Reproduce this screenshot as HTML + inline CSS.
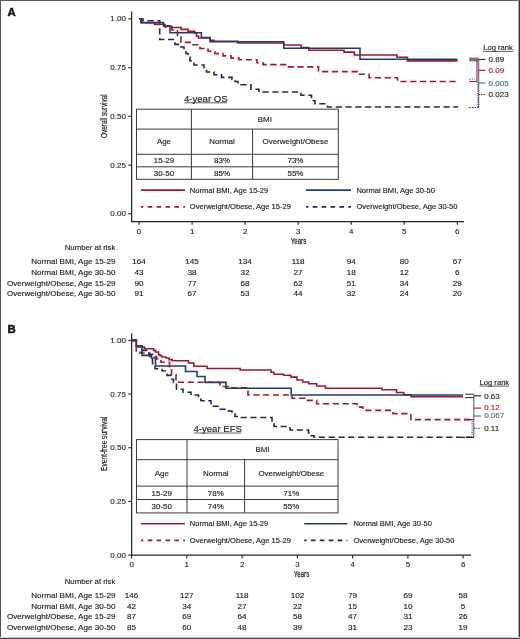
<!DOCTYPE html>
<html><head><meta charset="utf-8"><style>
html,body{margin:0;padding:0;background:#fff;}
svg{display:block;}
#w{width:520px;height:639px;overflow:hidden;will-change:transform;}
text{font-family:"Liberation Sans",sans-serif;}
</style></head><body><div id="w">
<svg width="520" height="639" viewBox="0 0 520 639">
<rect x="0" y="0" width="520" height="639" fill="#fff"/>
<text x="7.6" y="16.3" font-size="11.4" font-weight="bold" fill="#111" stroke="#111" stroke-width="0.45">A</text>
<line x1="131.6" y1="11.5" x2="131.6" y2="222.2" stroke="#222" stroke-width="1.25"/>
<line x1="131" y1="221.6" x2="464" y2="221.6" stroke="#222" stroke-width="1.25"/>
<line x1="128.3" y1="18.8" x2="131.6" y2="18.8" stroke="#222" stroke-width="1.1"/>
<text x="125.9" y="21.3" font-size="8.0" text-anchor="end" fill="#2a2a2a" stroke="#2a2a2a" stroke-width="0.15">1.00</text>
<line x1="128.3" y1="67.7" x2="131.6" y2="67.7" stroke="#222" stroke-width="1.1"/>
<text x="125.9" y="70.2" font-size="8.0" text-anchor="end" fill="#2a2a2a" stroke="#2a2a2a" stroke-width="0.15">0.75</text>
<line x1="128.3" y1="116.3" x2="131.6" y2="116.3" stroke="#222" stroke-width="1.1"/>
<text x="125.9" y="118.8" font-size="8.0" text-anchor="end" fill="#2a2a2a" stroke="#2a2a2a" stroke-width="0.15">0.50</text>
<line x1="128.3" y1="165.2" x2="131.6" y2="165.2" stroke="#222" stroke-width="1.1"/>
<text x="125.9" y="167.7" font-size="8.0" text-anchor="end" fill="#2a2a2a" stroke="#2a2a2a" stroke-width="0.15">0.25</text>
<line x1="128.3" y1="213.8" x2="131.6" y2="213.8" stroke="#222" stroke-width="1.1"/>
<text x="125.9" y="216.3" font-size="8.0" text-anchor="end" fill="#2a2a2a" stroke="#2a2a2a" stroke-width="0.15">0.00</text>
<line x1="139.0" y1="221.6" x2="139.0" y2="224.79999999999998" stroke="#222" stroke-width="1.1"/>
<text x="139.0" y="233.79999999999998" font-size="7.9" text-anchor="middle" fill="#2a2a2a" stroke="#2a2a2a" stroke-width="0.15">0</text>
<line x1="192.1" y1="221.6" x2="192.1" y2="224.79999999999998" stroke="#222" stroke-width="1.1"/>
<text x="192.1" y="233.79999999999998" font-size="7.9" text-anchor="middle" fill="#2a2a2a" stroke="#2a2a2a" stroke-width="0.15">1</text>
<line x1="245.1" y1="221.6" x2="245.1" y2="224.79999999999998" stroke="#222" stroke-width="1.1"/>
<text x="245.1" y="233.79999999999998" font-size="7.9" text-anchor="middle" fill="#2a2a2a" stroke="#2a2a2a" stroke-width="0.15">2</text>
<line x1="298.1" y1="221.6" x2="298.1" y2="224.79999999999998" stroke="#222" stroke-width="1.1"/>
<text x="298.1" y="233.79999999999998" font-size="7.9" text-anchor="middle" fill="#2a2a2a" stroke="#2a2a2a" stroke-width="0.15">3</text>
<line x1="351.2" y1="221.6" x2="351.2" y2="224.79999999999998" stroke="#222" stroke-width="1.1"/>
<text x="351.2" y="233.79999999999998" font-size="7.9" text-anchor="middle" fill="#2a2a2a" stroke="#2a2a2a" stroke-width="0.15">4</text>
<line x1="404.2" y1="221.6" x2="404.2" y2="224.79999999999998" stroke="#222" stroke-width="1.1"/>
<text x="404.2" y="233.79999999999998" font-size="7.9" text-anchor="middle" fill="#2a2a2a" stroke="#2a2a2a" stroke-width="0.15">5</text>
<line x1="457.3" y1="221.6" x2="457.3" y2="224.79999999999998" stroke="#222" stroke-width="1.1"/>
<text x="457.3" y="233.79999999999998" font-size="7.9" text-anchor="middle" fill="#2a2a2a" stroke="#2a2a2a" stroke-width="0.15">6</text>
<text x="7.6" y="332.9" font-size="11.4" font-weight="bold" fill="#111" stroke="#111" stroke-width="0.45">B</text>
<line x1="131.6" y1="333.3" x2="131.6" y2="555.8000000000001" stroke="#222" stroke-width="1.25"/>
<line x1="131" y1="555.2" x2="471" y2="555.2" stroke="#222" stroke-width="1.25"/>
<line x1="128.3" y1="340.4" x2="131.6" y2="340.4" stroke="#222" stroke-width="1.1"/>
<text x="125.9" y="342.9" font-size="8.0" text-anchor="end" fill="#2a2a2a" stroke="#2a2a2a" stroke-width="0.15">1.00</text>
<line x1="128.3" y1="394.0" x2="131.6" y2="394.0" stroke="#222" stroke-width="1.1"/>
<text x="125.9" y="396.5" font-size="8.0" text-anchor="end" fill="#2a2a2a" stroke="#2a2a2a" stroke-width="0.15">0.75</text>
<line x1="128.3" y1="447.7" x2="131.6" y2="447.7" stroke="#222" stroke-width="1.1"/>
<text x="125.9" y="450.2" font-size="8.0" text-anchor="end" fill="#2a2a2a" stroke="#2a2a2a" stroke-width="0.15">0.50</text>
<line x1="128.3" y1="501.4" x2="131.6" y2="501.4" stroke="#222" stroke-width="1.1"/>
<text x="125.9" y="503.9" font-size="8.0" text-anchor="end" fill="#2a2a2a" stroke="#2a2a2a" stroke-width="0.15">0.25</text>
<line x1="128.3" y1="555.2" x2="131.6" y2="555.2" stroke="#222" stroke-width="1.1"/>
<text x="125.9" y="557.7" font-size="8.0" text-anchor="end" fill="#2a2a2a" stroke="#2a2a2a" stroke-width="0.15">0.00</text>
<line x1="131.6" y1="555.2" x2="131.6" y2="558.4000000000001" stroke="#222" stroke-width="1.1"/>
<text x="131.6" y="567.4000000000001" font-size="7.9" text-anchor="middle" fill="#2a2a2a" stroke="#2a2a2a" stroke-width="0.15">0</text>
<line x1="186.8" y1="555.2" x2="186.8" y2="558.4000000000001" stroke="#222" stroke-width="1.1"/>
<text x="186.8" y="567.4000000000001" font-size="7.9" text-anchor="middle" fill="#2a2a2a" stroke="#2a2a2a" stroke-width="0.15">1</text>
<line x1="242.1" y1="555.2" x2="242.1" y2="558.4000000000001" stroke="#222" stroke-width="1.1"/>
<text x="242.1" y="567.4000000000001" font-size="7.9" text-anchor="middle" fill="#2a2a2a" stroke="#2a2a2a" stroke-width="0.15">2</text>
<line x1="297.4" y1="555.2" x2="297.4" y2="558.4000000000001" stroke="#222" stroke-width="1.1"/>
<text x="297.4" y="567.4000000000001" font-size="7.9" text-anchor="middle" fill="#2a2a2a" stroke="#2a2a2a" stroke-width="0.15">3</text>
<line x1="352.6" y1="555.2" x2="352.6" y2="558.4000000000001" stroke="#222" stroke-width="1.1"/>
<text x="352.6" y="567.4000000000001" font-size="7.9" text-anchor="middle" fill="#2a2a2a" stroke="#2a2a2a" stroke-width="0.15">4</text>
<line x1="407.9" y1="555.2" x2="407.9" y2="558.4000000000001" stroke="#222" stroke-width="1.1"/>
<text x="407.9" y="567.4000000000001" font-size="7.9" text-anchor="middle" fill="#2a2a2a" stroke="#2a2a2a" stroke-width="0.15">5</text>
<line x1="463.1" y1="555.2" x2="463.1" y2="558.4000000000001" stroke="#222" stroke-width="1.1"/>
<text x="463.1" y="567.4000000000001" font-size="7.9" text-anchor="middle" fill="#2a2a2a" stroke="#2a2a2a" stroke-width="0.15">6</text>
<text x="298.5" y="243.6" font-size="9.4" text-anchor="middle" textLength="15.4" lengthAdjust="spacingAndGlyphs" fill="#222" stroke="#222" stroke-width="0.25">Years</text>
<text x="301.5" y="577.0" font-size="9.4" text-anchor="middle" textLength="15.4" lengthAdjust="spacingAndGlyphs" fill="#222" stroke="#222" stroke-width="0.25">Years</text>
<text transform="translate(107.2,116.1) rotate(-90)" font-size="8.5" text-anchor="middle" textLength="43.6" lengthAdjust="spacingAndGlyphs" fill="#222" stroke="#222" stroke-width="0.2">Overall survival</text>
<text transform="translate(107.2,443.8) rotate(-90)" font-size="8.5" text-anchor="middle" textLength="54.2" lengthAdjust="spacingAndGlyphs" fill="#222" stroke="#222" stroke-width="0.2">Event-free survival</text>
<polyline points="139.5,19 141.5,19 141.5,22.7 155,22.7 155,24.5 165,24.5 165,27 172,27 172,30 177.5,30 177.5,37 181,37 181,42.4 193,42.4 193,44.7 200,44.7 200,48.5 208,48.5 208,51.2 215,51.2 215,53.6 223,53.6 223,55.9 231,55.9 231,58.1 239,58.1 239,59.8 257,59.8 257,62.7 263,62.7 263,64.6 286.5,64.6 286.5,66.9 318.5,66.9 318.5,71.6 359.5,71.6 359.5,74.2 369,74.2 369,77.7 397.5,77.7 397.5,81.5 457.5,81.5" fill="none" stroke="#a3162f" stroke-width="1.6" stroke-dasharray="6.2 3.6"/>
<polyline points="139.5,19 143,19 143,20.8 159.7,20.8 159.7,39.5 175,39.5 175,44.4 181,44.4 181,47 184,47 184,50 186,50 186,53.5 188,53.5 188,57 190,57 190,61 194,61 194,65 204,65 204,68.5 206.5,68.5 206.5,72 214,72 214,74.7 221.5,74.7 221.5,77.4 232,77.4 232,79.5 235,79.5 235,81.5 238,81.5 238,84.8 251,84.8 251,89.3 259,89.3 259,92 301,92 301,95.2 311.5,95.2 311.5,100.7 315,100.7 315,103.8 327.5,103.8 327.5,107 458,107" fill="none" stroke="#1b2d52" stroke-width="1.6" stroke-dasharray="6.2 3.6"/>
<polyline points="139.5,19 141.5,19 141.5,22.7 154.3,22.7 154.3,24.2 164,24.2 164,26.2 171.6,26.2 171.6,27.5 181.2,27.5 181.2,29.4 188,29.4 188,31.3 194.7,31.3 194.7,33.3 196.5,33.3 196.5,36 198.5,36 198.5,38 210,38 210,40.2 214,40.2 214,41.2 237.7,41.2 237.7,43 283.8,43 283.8,45 301,45 301,47.5 308.8,47.5 308.8,50.2 344,50.2 344,52.1 354.5,52.1 354.5,55 397,55 397,57.3 407.5,57.3 407.5,60.9 457.5,60.9" fill="none" stroke="#a3162f" stroke-width="1.6"/>
<polyline points="139.5,19 141,19 141,22.5 163.5,22.5 163.5,25.8 170,25.8 170,32.7 201.4,32.7 201.4,37.5 210.1,37.5 210.1,41.7 283.8,41.7 283.8,48.3 360,48.3 360,59.3 457.5,59.3" fill="none" stroke="#1f3d6e" stroke-width="1.6"/>
<polyline points="131.5,340.4 136.3,340.4 136.3,351 140,351 140,353 149.5,353 149.5,356.5 156.5,356.5 156.5,359 161,359 161,362.3 169.5,362.3 169.5,367.5 171.5,367.5 171.5,374.5 176,374.5 176,382.2 220,382.2 220,386.5 228,386.5 228,387.7 248,387.7 248,395 292,395 292,398.3 305,398.3 305,400.4 316.7,400.4 316.7,403.8 357,403.8 357,407.1 363,407.1 363,410.4 393,410.4 393,413.6 411,413.6 411,419.6 472,419.6" fill="none" stroke="#a3162f" stroke-width="1.6" stroke-dasharray="6.2 3.6"/>
<polyline points="131.5,340.4 136.3,340.4 136.3,345.8 140.5,345.8 140.5,350.4 149,350.4 149,354.2 152.5,354.2 152.5,363.8 155,363.8 155,368.7 162,368.7 162,370.8 167,370.8 167,375.4 171,375.4 171,379.2 173.5,379.2 173.5,382.5 176.5,382.5 176.5,389.2 183,389.2 183,392.3 191,392.3 191,395 198.5,395 198.5,398 201,398 201,400.8 211,400.8 211,406.2 219.5,406.2 219.5,409.2 228.5,409.2 228.5,411 232,411 232,414 235,414 235,416.5 238,416.5 238,417.5 272,417.5 272,422 274,422 274,426.5 290,426.5 290,430 308.5,430 308.5,433 311,433 311,435.8 314,435.8 314,437.3 472,437.3" fill="none" stroke="#1b2d52" stroke-width="1.6" stroke-dasharray="6.2 3.6"/>
<polyline points="131.5,340.4 136.3,340.4 136.3,345.8 138,345.8 138,347 144.4,347 144.4,348.7 153.6,348.7 153.6,350.4 155.5,350.4 155.5,352 158.5,352 158.5,354.6 160,354.6 160,355.8 162,355.8 162,357 166,357 166,358 169,358 169,359.6 172.3,359.6 172.3,360.8 188.5,360.8 188.5,363 193.8,363 193.8,366.2 207,366.2 207,368.5 240.2,368.5 240.2,370 271,370 271,372.3 274,372.3 274,374.2 283.5,374.2 283.5,375.2 291,375.2 291,377.1 297,377.1 297,380 302.7,380 302.7,382 308.5,382 308.5,383.8 316.7,383.8 316.7,386 325.4,386 325.4,388.3 382,388.3 382,389.8 396.5,389.8 396.5,392.5 403.8,392.5 403.8,394.7 411,394.7 411,396.8 463,396.8" fill="none" stroke="#a3162f" stroke-width="1.6"/>
<polyline points="131.5,340.4 136.3,340.4 136.3,345.8 142,345.8 142,355.4 151.5,355.4 151.5,358 155.5,358 155.5,366 185.5,366 185.5,371.5 197,371.5 197,376.5 205,376.5 205,382.4 226,382.4 226,388.2 291.2,388.2 291.2,395 463,395" fill="none" stroke="#1f3d6e" stroke-width="1.6"/>
<text x="205.8" y="101.8" font-size="9.6" text-anchor="middle" fill="#222" stroke="#222" stroke-width="0.15">4-year OS</text>
<line x1="184.4" y1="102.8" x2="227.1" y2="102.8" stroke="#333" stroke-width="0.8"/>
<rect x="136.5" y="109.2" width="201.8" height="70.10000000000001" fill="#fff" stroke="#3a3a3a" stroke-width="1"/>
<line x1="136.5" y1="129.1" x2="338.3" y2="129.1" stroke="#3a3a3a" stroke-width="1"/>
<line x1="136.5" y1="154.3" x2="338.3" y2="154.3" stroke="#3a3a3a" stroke-width="1"/>
<line x1="136.5" y1="166.8" x2="338.3" y2="166.8" stroke="#3a3a3a" stroke-width="1"/>
<line x1="191.4" y1="109.2" x2="191.4" y2="179.3" stroke="#3a3a3a" stroke-width="1"/>
<line x1="252.6" y1="129.1" x2="252.6" y2="179.3" stroke="#3a3a3a" stroke-width="1"/>
<text x="264.85" y="121.85000000000001" font-size="7.95" text-anchor="middle" fill="#222" stroke="#222" stroke-width="0.15">BMI</text>
<text x="163.95" y="144.39999999999998" font-size="7.95" text-anchor="middle" fill="#222" stroke="#222" stroke-width="0.15">Age</text>
<text x="222.0" y="144.39999999999998" font-size="7.95" text-anchor="middle" fill="#222" stroke="#222" stroke-width="0.15">Normal</text>
<text x="295.45" y="144.39999999999998" font-size="7.95" text-anchor="middle" fill="#222" stroke="#222" stroke-width="0.15">Overweight/Obese</text>
<text x="163.95" y="163.25" font-size="7.95" text-anchor="middle" fill="#222" stroke="#222" stroke-width="0.15">15-29</text>
<text x="222.0" y="163.25" font-size="7.95" text-anchor="middle" fill="#222" stroke="#222" stroke-width="0.15">83%</text>
<text x="295.45" y="163.25" font-size="7.95" text-anchor="middle" fill="#222" stroke="#222" stroke-width="0.15">73%</text>
<text x="163.95" y="175.75" font-size="7.95" text-anchor="middle" fill="#222" stroke="#222" stroke-width="0.15">30-50</text>
<text x="222.0" y="175.75" font-size="7.95" text-anchor="middle" fill="#222" stroke="#222" stroke-width="0.15">85%</text>
<text x="295.45" y="175.75" font-size="7.95" text-anchor="middle" fill="#222" stroke="#222" stroke-width="0.15">55%</text>
<text x="217.7" y="432.0" font-size="9.6" text-anchor="middle" fill="#222" stroke="#222" stroke-width="0.15">4-year EFS</text>
<line x1="194.2" y1="433.0" x2="241.2" y2="433.0" stroke="#333" stroke-width="0.8"/>
<rect x="136.5" y="439.6" width="201.5" height="73.29999999999995" fill="#fff" stroke="#3a3a3a" stroke-width="1"/>
<line x1="136.5" y1="459.7" x2="338.0" y2="459.7" stroke="#3a3a3a" stroke-width="1"/>
<line x1="136.5" y1="486.1" x2="338.0" y2="486.1" stroke="#3a3a3a" stroke-width="1"/>
<line x1="136.5" y1="499.5" x2="338.0" y2="499.5" stroke="#3a3a3a" stroke-width="1"/>
<line x1="187.0" y1="439.6" x2="187.0" y2="512.9" stroke="#3a3a3a" stroke-width="1"/>
<line x1="244.6" y1="459.7" x2="244.6" y2="512.9" stroke="#3a3a3a" stroke-width="1"/>
<text x="262.5" y="452.34999999999997" font-size="7.95" text-anchor="middle" fill="#222" stroke="#222" stroke-width="0.15">BMI</text>
<text x="161.75" y="475.59999999999997" font-size="7.95" text-anchor="middle" fill="#222" stroke="#222" stroke-width="0.15">Age</text>
<text x="215.8" y="475.59999999999997" font-size="7.95" text-anchor="middle" fill="#222" stroke="#222" stroke-width="0.15">Normal</text>
<text x="291.3" y="475.59999999999997" font-size="7.95" text-anchor="middle" fill="#222" stroke="#222" stroke-width="0.15">Overweight/Obese</text>
<text x="161.75" y="495.5" font-size="7.95" text-anchor="middle" fill="#222" stroke="#222" stroke-width="0.15">15-29</text>
<text x="215.8" y="495.5" font-size="7.95" text-anchor="middle" fill="#222" stroke="#222" stroke-width="0.15">78%</text>
<text x="291.3" y="495.5" font-size="7.95" text-anchor="middle" fill="#222" stroke="#222" stroke-width="0.15">71%</text>
<text x="161.75" y="508.9" font-size="7.95" text-anchor="middle" fill="#222" stroke="#222" stroke-width="0.15">30-50</text>
<text x="215.8" y="508.9" font-size="7.95" text-anchor="middle" fill="#222" stroke="#222" stroke-width="0.15">74%</text>
<text x="291.3" y="508.9" font-size="7.95" text-anchor="middle" fill="#222" stroke="#222" stroke-width="0.15">55%</text>
<line x1="141" y1="190.1" x2="185" y2="190.1" stroke="#a3162f" stroke-width="1.6"/>
<text x="189.8" y="192.79999999999998" font-size="7.55" fill="#222" stroke="#222" stroke-width="0.15">Normal BMI, Age 15-29</text>
<line x1="141" y1="206.9" x2="185" y2="206.9" stroke="#a3162f" stroke-width="1.6" stroke-dasharray="4.6 4.3" stroke-dashoffset="2.2"/>
<text x="189.8" y="209.20000000000002" font-size="7.55" fill="#222" stroke="#222" stroke-width="0.15">Overweight/Obese, Age 15-29</text>
<line x1="306" y1="190.1" x2="351" y2="190.1" stroke="#1f3d6e" stroke-width="1.6"/>
<text x="356.4" y="192.79999999999998" font-size="7.55" fill="#222" stroke="#222" stroke-width="0.15">Normal BMI, Age 30-50</text>
<line x1="306" y1="206.9" x2="351" y2="206.9" stroke="#1b2d52" stroke-width="1.6" stroke-dasharray="4.6 4.3" stroke-dashoffset="2.2"/>
<text x="356.4" y="209.20000000000002" font-size="7.55" fill="#222" stroke="#222" stroke-width="0.15">Overweight/Obese, Age 30-50</text>
<line x1="141" y1="523.7" x2="185" y2="523.7" stroke="#a3162f" stroke-width="1.6"/>
<text x="189.8" y="526.4000000000001" font-size="7.55" fill="#222" stroke="#222" stroke-width="0.15">Normal BMI, Age 15-29</text>
<line x1="141" y1="540.4" x2="185" y2="540.4" stroke="#a3162f" stroke-width="1.6" stroke-dasharray="4.6 4.3" stroke-dashoffset="2.2"/>
<text x="189.8" y="542.6999999999999" font-size="7.55" fill="#222" stroke="#222" stroke-width="0.15">Overweight/Obese, Age 15-29</text>
<line x1="304.2" y1="523.7" x2="347.3" y2="523.7" stroke="#1f3d6e" stroke-width="1.6"/>
<text x="353.4" y="526.4000000000001" font-size="7.55" fill="#222" stroke="#222" stroke-width="0.15">Normal BMI, Age 30-50</text>
<line x1="304.2" y1="540.4" x2="347.3" y2="540.4" stroke="#1b2d52" stroke-width="1.6" stroke-dasharray="4.6 4.3" stroke-dashoffset="2.2"/>
<text x="353.4" y="542.6999999999999" font-size="7.55" fill="#222" stroke="#222" stroke-width="0.15">Overweight/Obese, Age 30-50</text>
<text x="115.4" y="250.3" font-size="7.8" text-anchor="end" fill="#222" stroke="#222" stroke-width="0.15">Number at risk</text>
<text x="115.4" y="264.1" font-size="8.1" text-anchor="end" fill="#222" stroke="#222" stroke-width="0.15">Normal BMI, Age 15-29</text>
<text x="139.0" y="264.1" font-size="8.1" text-anchor="middle" fill="#222" stroke="#222" stroke-width="0.15">164</text>
<text x="192.1" y="264.1" font-size="8.1" text-anchor="middle" fill="#222" stroke="#222" stroke-width="0.15">145</text>
<text x="245.1" y="264.1" font-size="8.1" text-anchor="middle" fill="#222" stroke="#222" stroke-width="0.15">134</text>
<text x="298.1" y="264.1" font-size="8.1" text-anchor="middle" fill="#222" stroke="#222" stroke-width="0.15">118</text>
<text x="351.2" y="264.1" font-size="8.1" text-anchor="middle" fill="#222" stroke="#222" stroke-width="0.15">94</text>
<text x="404.2" y="264.1" font-size="8.1" text-anchor="middle" fill="#222" stroke="#222" stroke-width="0.15">80</text>
<text x="457.3" y="264.1" font-size="8.1" text-anchor="middle" fill="#222" stroke="#222" stroke-width="0.15">67</text>
<text x="115.4" y="274.8" font-size="8.1" text-anchor="end" fill="#222" stroke="#222" stroke-width="0.15">Normal BMI, Age 30-50</text>
<text x="139.0" y="274.8" font-size="8.1" text-anchor="middle" fill="#222" stroke="#222" stroke-width="0.15">43</text>
<text x="192.1" y="274.8" font-size="8.1" text-anchor="middle" fill="#222" stroke="#222" stroke-width="0.15">38</text>
<text x="245.1" y="274.8" font-size="8.1" text-anchor="middle" fill="#222" stroke="#222" stroke-width="0.15">32</text>
<text x="298.1" y="274.8" font-size="8.1" text-anchor="middle" fill="#222" stroke="#222" stroke-width="0.15">27</text>
<text x="351.2" y="274.8" font-size="8.1" text-anchor="middle" fill="#222" stroke="#222" stroke-width="0.15">18</text>
<text x="404.2" y="274.8" font-size="8.1" text-anchor="middle" fill="#222" stroke="#222" stroke-width="0.15">12</text>
<text x="457.3" y="274.8" font-size="8.1" text-anchor="middle" fill="#222" stroke="#222" stroke-width="0.15">6</text>
<text x="115.4" y="285.5" font-size="8.1" text-anchor="end" fill="#222" stroke="#222" stroke-width="0.15">Overweight/Obese, Age 15-29</text>
<text x="139.0" y="285.5" font-size="8.1" text-anchor="middle" fill="#222" stroke="#222" stroke-width="0.15">90</text>
<text x="192.1" y="285.5" font-size="8.1" text-anchor="middle" fill="#222" stroke="#222" stroke-width="0.15">77</text>
<text x="245.1" y="285.5" font-size="8.1" text-anchor="middle" fill="#222" stroke="#222" stroke-width="0.15">68</text>
<text x="298.1" y="285.5" font-size="8.1" text-anchor="middle" fill="#222" stroke="#222" stroke-width="0.15">62</text>
<text x="351.2" y="285.5" font-size="8.1" text-anchor="middle" fill="#222" stroke="#222" stroke-width="0.15">51</text>
<text x="404.2" y="285.5" font-size="8.1" text-anchor="middle" fill="#222" stroke="#222" stroke-width="0.15">34</text>
<text x="457.3" y="285.5" font-size="8.1" text-anchor="middle" fill="#222" stroke="#222" stroke-width="0.15">29</text>
<text x="115.4" y="296.1" font-size="8.1" text-anchor="end" fill="#222" stroke="#222" stroke-width="0.15">Overweight/Obese, Age 30-50</text>
<text x="139.0" y="296.1" font-size="8.1" text-anchor="middle" fill="#222" stroke="#222" stroke-width="0.15">91</text>
<text x="192.1" y="296.1" font-size="8.1" text-anchor="middle" fill="#222" stroke="#222" stroke-width="0.15">67</text>
<text x="245.1" y="296.1" font-size="8.1" text-anchor="middle" fill="#222" stroke="#222" stroke-width="0.15">53</text>
<text x="298.1" y="296.1" font-size="8.1" text-anchor="middle" fill="#222" stroke="#222" stroke-width="0.15">44</text>
<text x="351.2" y="296.1" font-size="8.1" text-anchor="middle" fill="#222" stroke="#222" stroke-width="0.15">32</text>
<text x="404.2" y="296.1" font-size="8.1" text-anchor="middle" fill="#222" stroke="#222" stroke-width="0.15">24</text>
<text x="457.3" y="296.1" font-size="8.1" text-anchor="middle" fill="#222" stroke="#222" stroke-width="0.15">20</text>
<text x="115.4" y="583.9" font-size="7.8" text-anchor="end" fill="#222" stroke="#222" stroke-width="0.15">Number at risk</text>
<text x="115.4" y="597.6" font-size="8.1" text-anchor="end" fill="#222" stroke="#222" stroke-width="0.15">Normal BMI, Age 15-29</text>
<text x="131.6" y="597.6" font-size="8.1" text-anchor="middle" fill="#222" stroke="#222" stroke-width="0.15">146</text>
<text x="186.8" y="597.6" font-size="8.1" text-anchor="middle" fill="#222" stroke="#222" stroke-width="0.15">127</text>
<text x="242.1" y="597.6" font-size="8.1" text-anchor="middle" fill="#222" stroke="#222" stroke-width="0.15">118</text>
<text x="297.4" y="597.6" font-size="8.1" text-anchor="middle" fill="#222" stroke="#222" stroke-width="0.15">102</text>
<text x="352.6" y="597.6" font-size="8.1" text-anchor="middle" fill="#222" stroke="#222" stroke-width="0.15">79</text>
<text x="407.9" y="597.6" font-size="8.1" text-anchor="middle" fill="#222" stroke="#222" stroke-width="0.15">69</text>
<text x="463.1" y="597.6" font-size="8.1" text-anchor="middle" fill="#222" stroke="#222" stroke-width="0.15">58</text>
<text x="115.4" y="608.5" font-size="8.1" text-anchor="end" fill="#222" stroke="#222" stroke-width="0.15">Normal BMI, Age 30-50</text>
<text x="131.6" y="608.5" font-size="8.1" text-anchor="middle" fill="#222" stroke="#222" stroke-width="0.15">42</text>
<text x="186.8" y="608.5" font-size="8.1" text-anchor="middle" fill="#222" stroke="#222" stroke-width="0.15">34</text>
<text x="242.1" y="608.5" font-size="8.1" text-anchor="middle" fill="#222" stroke="#222" stroke-width="0.15">27</text>
<text x="297.4" y="608.5" font-size="8.1" text-anchor="middle" fill="#222" stroke="#222" stroke-width="0.15">22</text>
<text x="352.6" y="608.5" font-size="8.1" text-anchor="middle" fill="#222" stroke="#222" stroke-width="0.15">15</text>
<text x="407.9" y="608.5" font-size="8.1" text-anchor="middle" fill="#222" stroke="#222" stroke-width="0.15">10</text>
<text x="463.1" y="608.5" font-size="8.1" text-anchor="middle" fill="#222" stroke="#222" stroke-width="0.15">5</text>
<text x="115.4" y="619.3" font-size="8.1" text-anchor="end" fill="#222" stroke="#222" stroke-width="0.15">Overweight/Obese, Age 15-29</text>
<text x="131.6" y="619.3" font-size="8.1" text-anchor="middle" fill="#222" stroke="#222" stroke-width="0.15">87</text>
<text x="186.8" y="619.3" font-size="8.1" text-anchor="middle" fill="#222" stroke="#222" stroke-width="0.15">69</text>
<text x="242.1" y="619.3" font-size="8.1" text-anchor="middle" fill="#222" stroke="#222" stroke-width="0.15">64</text>
<text x="297.4" y="619.3" font-size="8.1" text-anchor="middle" fill="#222" stroke="#222" stroke-width="0.15">58</text>
<text x="352.6" y="619.3" font-size="8.1" text-anchor="middle" fill="#222" stroke="#222" stroke-width="0.15">47</text>
<text x="407.9" y="619.3" font-size="8.1" text-anchor="middle" fill="#222" stroke="#222" stroke-width="0.15">31</text>
<text x="463.1" y="619.3" font-size="8.1" text-anchor="middle" fill="#222" stroke="#222" stroke-width="0.15">26</text>
<text x="115.4" y="630.0" font-size="8.1" text-anchor="end" fill="#222" stroke="#222" stroke-width="0.15">Overweight/Obese, Age 30-50</text>
<text x="131.6" y="630.0" font-size="8.1" text-anchor="middle" fill="#222" stroke="#222" stroke-width="0.15">85</text>
<text x="186.8" y="630.0" font-size="8.1" text-anchor="middle" fill="#222" stroke="#222" stroke-width="0.15">60</text>
<text x="242.1" y="630.0" font-size="8.1" text-anchor="middle" fill="#222" stroke="#222" stroke-width="0.15">48</text>
<text x="297.4" y="630.0" font-size="8.1" text-anchor="middle" fill="#222" stroke="#222" stroke-width="0.15">39</text>
<text x="352.6" y="630.0" font-size="8.1" text-anchor="middle" fill="#222" stroke="#222" stroke-width="0.15">31</text>
<text x="407.9" y="630.0" font-size="8.1" text-anchor="middle" fill="#222" stroke="#222" stroke-width="0.15">23</text>
<text x="463.1" y="630.0" font-size="8.1" text-anchor="middle" fill="#222" stroke="#222" stroke-width="0.15">19</text>
<text x="483.2" y="50.2" font-size="7.6" fill="#222" stroke="#222" stroke-width="0.15">Log rank</text>
<line x1="483.2" y1="51.4" x2="513.3" y2="51.4" stroke="#333" stroke-width="0.8"/>
<rect x="469.2" y="57.6" width="9.4" height="3.8" fill="#8a6a80"/>
<line x1="477" y1="60" x2="477" y2="81.5" stroke="#a3162f" stroke-width="1.1"/>
<line x1="469.2" y1="81.5" x2="477" y2="81.5" stroke="#a3162f" stroke-width="1.1"/>
<line x1="478.7" y1="60" x2="478.7" y2="107.5" stroke="#4a6a95" stroke-width="1.1"/>
<line x1="477.8" y1="82" x2="477.8" y2="107.5" stroke="#222" stroke-width="0.9" stroke-dasharray="1 1.2"/>
<line x1="469.2" y1="79" x2="475" y2="79" stroke="#222" stroke-width="0.9" stroke-dasharray="1 1.5"/>
<line x1="469.2" y1="107.6" x2="478.7" y2="107.6" stroke="#222" stroke-width="1" stroke-dasharray="1.5 1.2"/>
<line x1="478.6" y1="59.4" x2="485.4" y2="59.4" stroke="#222" stroke-width="1.1"/>
<line x1="478.6" y1="70.3" x2="485.4" y2="70.3" stroke="#a3162f" stroke-width="1.1"/>
<line x1="478.6" y1="83" x2="485.4" y2="83" stroke="#4a6a95" stroke-width="1.1"/>
<line x1="478.6" y1="94.5" x2="485.4" y2="94.5" stroke="#222" stroke-width="1" stroke-dasharray="1.2 1.2"/>
<text x="488.6" y="62.1" font-size="8.0" fill="#222" stroke="#222" stroke-width="0.15">0.89</text>
<text x="488.6" y="72.9" font-size="8.0" fill="#9a2340" stroke="#9a2340" stroke-width="0.15">0.09</text>
<text x="488.6" y="85.6" font-size="8.0" fill="#4a6590" stroke="#4a6590" stroke-width="0.15">0.005</text>
<text x="488.6" y="96.8" font-size="8.0" fill="#222" stroke="#222" stroke-width="0.15">0.023</text>
<text x="479.6" y="384.8" font-size="7.6" fill="#222" stroke="#222" stroke-width="0.15">Log rank</text>
<line x1="479.6" y1="386.1" x2="509" y2="386.1" stroke="#333" stroke-width="0.8"/>
<line x1="465.2" y1="394.2" x2="473.8" y2="394.2" stroke="#222" stroke-width="1.0"/>
<line x1="465.2" y1="397.6" x2="473.8" y2="397.6" stroke="#222" stroke-width="1.0"/>
<line x1="473.8" y1="394" x2="473.8" y2="437.5" stroke="#4a6a95" stroke-width="1.1"/>
<line x1="464" y1="419.6" x2="473.8" y2="419.6" stroke="#a3162f" stroke-width="1.3"/>
<line x1="462" y1="437.4" x2="473.8" y2="437.4" stroke="#223" stroke-width="1.2" stroke-dasharray="3 1.5"/>
<line x1="472.1" y1="421" x2="472.1" y2="435" stroke="#222" stroke-width="0.9" stroke-dasharray="1 1.2"/>
<line x1="473.8" y1="395.8" x2="481.3" y2="395.8" stroke="#222" stroke-width="1.1"/>
<line x1="473.8" y1="408.1" x2="481.3" y2="408.1" stroke="#a3162f" stroke-width="1.1"/>
<line x1="473.8" y1="416" x2="481.3" y2="416" stroke="#4a6a95" stroke-width="1.1"/>
<line x1="473.8" y1="428.3" x2="481.3" y2="428.3" stroke="#222" stroke-width="1" stroke-dasharray="1.2 1.2"/>
<text x="484.2" y="398.7" font-size="8.0" fill="#222" stroke="#222" stroke-width="0.15">0.63</text>
<text x="484.2" y="409.9" font-size="8.0" fill="#9a2340" stroke="#9a2340" stroke-width="0.15">0.12</text>
<text x="484.2" y="418.4" font-size="8.0" fill="#4a6590" stroke="#4a6590" stroke-width="0.15">0.067</text>
<text x="484.2" y="431.2" font-size="8.0" fill="#222" stroke="#222" stroke-width="0.15">0.11</text>
<rect x="0" y="0" width="520" height="1" fill="#5a5a5a"/>
<rect x="0" y="0" width="1" height="639" fill="#555"/>
<rect x="518" y="0" width="1" height="639" fill="#aaa"/>
<rect x="519" y="0" width="1" height="639" fill="#333"/>
<rect x="0" y="637" width="520" height="1" fill="#ccc"/>
<rect x="0" y="638" width="520" height="1" fill="#444"/>
</svg></div></body></html>
